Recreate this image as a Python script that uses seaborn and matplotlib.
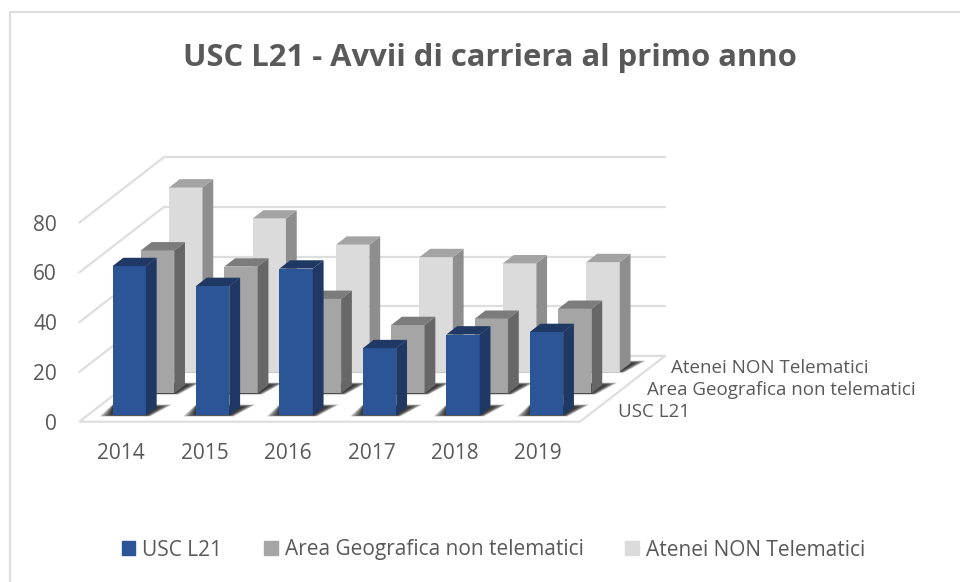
import matplotlib
matplotlib.use('Agg')
import matplotlib.pyplot as plt
import seaborn as sns
import pandas as pd
from matplotlib.lines import Line2D
from matplotlib.patches import Patch, Polygon

# values
years = ['2014', '2015', '2016', '2017', '2018', '2019']
usc = [60, 52, 59, 27, 32.5, 33.5]
area = [57.5, 51, 38, 27.5, 30, 34]
atenei = [74, 61.5, 51, 46, 43.5, 44]
series_names = ['USC L21', 'Area Geografica non telematici', 'Atenei NON Telematici']
y_ticks = [0, 20, 40, 60, 80]

front_cols = ['#2C5597', '#A5A5A5', '#DBDBDB']
side_cols = ['#1F3864', '#676767', '#8E8E8E']
top_cols = ['#203864', '#7C7C7C', '#A3A3A3']
text_col = '#595959'
grid_col = '#DEDEDE'

sns.set_theme(style='white')
plt.rcParams['font.family'] = ['Open Sans', 'DejaVu Sans']

W, H = 960, 582
fig = plt.figure(figsize=(W / 100, H / 100), dpi=100)

# plot box of the front plane, pixels from top left
LEFT, RIGHT, BOTTOM, TOP = 79.3, 580.0, 421.7, 222.7
SLOT_X, SLOT_Y = 28.3, 21.9  # shift of one series in depth
GAP, BAR_DEPTH = 0.29, 0.38
px_x = (RIGHT - LEFT) / 6
px_y = (BOTTOM - TOP) / 80


def plane(depth):
    """Transparent axes sitting at a given depth of the fake 3D box."""
    x0 = LEFT + SLOT_X * depth
    y0 = BOTTOM - SLOT_Y * depth
    ax = fig.add_axes([x0 / W, 1 - y0 / H, (RIGHT - LEFT) / W, (BOTTOM - TOP) / H])
    ax.patch.set_alpha(0)
    ax.set_xlim(-0.5, 5.5)
    ax.set_ylim(0, 80)
    sns.despine(ax=ax, left=True, bottom=True)
    ax.tick_params(length=0)
    return ax


# frame around the chart
fig.add_artist(Line2D([9.5 / W, 9.5 / W, 1], [0, 1 - 11.5 / H, 1 - 11.5 / H],
                      color='#DDDDDD', lw=1.6))

# back wall with gridlines, floor and left edges
back = plane(3)
back.set_zorder(1)
back.set_yticks(y_ticks)
back.set_xticks([])
back.set_yticklabels([])
back.grid(axis='y', color=grid_col, lw=1.6)
for gl in back.get_ygridlines():
    gl.set_clip_on(False)
dx_all = 3 * SLOT_X / px_x
dy_all = 3 * SLOT_Y / px_y
back.add_patch(Polygon([(-0.5, 0), (5.5, 0), (5.5 - dx_all, -dy_all), (-0.5 - dx_all, -dy_all)],
                       facecolor='white', edgecolor=grid_col, lw=1.6, clip_on=False))
for v in y_ticks[1:]:
    back.plot([-0.5, -0.5 - dx_all], [v, v - dy_all], color=grid_col, lw=1.6, clip_on=False)

# axis labels live on the front plane
front = plane(0)
front.set_zorder(2)
front.set_xticks(range(len(years)), years)
front.set_yticks(y_ticks)
front.tick_params(axis='x', labelsize=15, labelcolor=text_col, pad=15)
front.tick_params(axis='y', labelsize=15, labelcolor=text_col, pad=16)

# one plane per series, back to front
label_pos = [(618, 412), (647, 390), (671, 368)]
for i in [2, 1, 0]:
    vals = [usc, area, atenei][i]
    ax = plane(i + GAP)
    ax.set_zorder(3 + (2 - i))
    df = pd.DataFrame({'year': years, 'value': vals})
    sns.barplot(data=df, x='year', y='value', color=front_cols[i], saturation=1,
                width=0.4, linewidth=0, ax=ax, zorder=3)
    ax.set_xlim(-0.5, 5.5)
    ax.set_ylim(0, 80)
    ax.set_xlabel('')
    ax.set_ylabel('')
    ax.set_xticks([])
    ax.set_yticks([])
    ddx = BAR_DEPTH * SLOT_X / px_x
    ddy = BAR_DEPTH * SLOT_Y / px_y
    for bar in list(ax.patches):
        x0 = bar.get_x()
        x1 = x0 + bar.get_width()
        h = bar.get_height()
        ax.add_patch(Polygon([(x1, 0), (x1 + ddx, ddy), (x1 + ddx, h + ddy), (x1, h)],
                             facecolor=side_cols[i], edgecolor='none', clip_on=False, zorder=3))
        ax.add_patch(Polygon([(x0, h), (x1, h), (x1 + ddx, h + ddy), (x0 + ddx, h + ddy)],
                             facecolor=top_cols[i], edgecolor='none', clip_on=False, zorder=3))
        # soft shadow on the floor, a few stacked layers
        for k in range(5):
            grow = 0.03 * k
            low = -0.4 + 0.1 * k
            high = ddy + 1.0 - 0.2 * k
            ax.add_patch(Polygon([(x0 - 0.15 + grow, low), (x1 + 0.05 - grow / 3, low),
                                  (x1 + ddx + 0.18 - grow, high), (x0, high)],
                                 facecolor='black', edgecolor='none', alpha=0.25,
                                 clip_on=False, zorder=2))
    fig.text(label_pos[i][0] / W, 1 - label_pos[i][1] / H, series_names[i], fontsize=13.5,
             color=text_col, va='center', ha='left', zorder=20)

fig.suptitle('USC L21 - Avvii di carriera al primo anno', x=490 / W, y=1 - 58 / H,
             fontsize=22.3, fontweight='bold', color=text_col, va='center')

handles = [Patch(color=c, label=n) for c, n in zip(front_cols, series_names)]
fig.legend(handles=handles, ncol=3, loc='center', bbox_to_anchor=(493.5 / W, 1 - 550 / H),
           frameon=False, fontsize=15, labelcolor=text_col, handlelength=0.65, handleheight=0.65,
           handletextpad=0.35, columnspacing=2.0)

fig.savefig('out.png', dpi=100)
